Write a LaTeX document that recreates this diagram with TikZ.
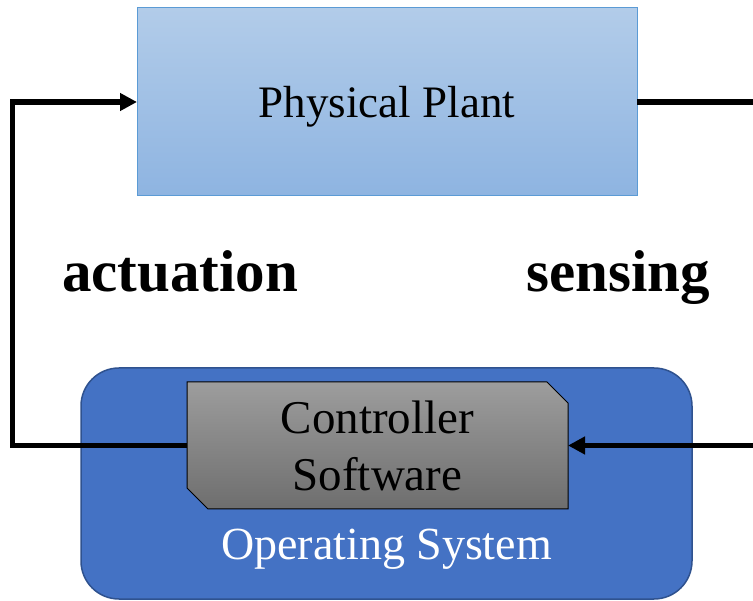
\documentclass[tikz,border=0pt]{standalone}
\usepackage{fontspec}
\setmainfont{Liberation Serif}
\usepackage{xcolor}
\usetikzlibrary{arrows.meta, backgrounds}

\definecolor{plantTop}{RGB}{178,204,233}
\definecolor{plantBot}{RGB}{142,180,225}
\definecolor{plantLine}{RGB}{91,155,213}
\definecolor{osFill}{RGB}{68,114,196}
\definecolor{osLine}{RGB}{47,82,143}
\definecolor{ctrlTop}{RGB}{157,157,157}
\definecolor{ctrlBot}{RGB}{110,110,110}

\begin{document}
\begin{tikzpicture}[x=1pt, y=-1pt,
    plantbox/.style={draw=plantLine, line width=1pt, top color=plantTop, bottom color=plantBot, minimum width=500pt, minimum height=188pt, inner sep=0pt, outer sep=0pt, text depth=0pt, font=\fontsize{45}{54}\selectfont},
    osbox/.style={draw=osLine, line width=1.5pt, fill=osFill, rounded corners=38pt, minimum width=611pt, minimum height=231pt, inner sep=0pt, outer sep=0pt},
    ctrlbox/.style={minimum width=381pt, minimum height=127pt, inner sep=0pt, outer sep=0pt, align=center, font=\fontsize{47}{57}\selectfont},
    ctrlshade/.style={draw=black, line width=1pt, top color=ctrlTop, bottom color=ctrlBot},
    lbl/.style={anchor=base, font=\fontsize{59}{70}\selectfont\bfseries},
    link/.style={line width=5.5pt, line join=miter, -{Triangle[length=17pt, width=17pt]}}
]
    \useasboundingbox (0,0) rectangle (753,601);
    \clip (0,0) rectangle (753,601);

    % plant
    \node[plantbox] at (387,102) (plant) {Physical Plant};

    % controller inside the OS
    \node[ctrlbox] at (377.5,445.5) (ctrl) {Controller\\Software};
    \begin{scope}[on background layer]
        \node[osbox] at (386.5,483.5) (os) {};
        \shade[ctrlshade] (ctrl.north west) -- ([xshift=-21pt]ctrl.north east) -- ([yshift=-21pt]ctrl.north east)
            -- (ctrl.south east) -- ([xshift=21pt]ctrl.south west) -- ([yshift=21pt]ctrl.south west) -- cycle;
    \end{scope}
    \node[anchor=base, text=white, font=\fontsize{46}{55}\selectfont] at (386.5,560) (oslabel) {Operating System};

    % loop labels
    \node[lbl] at (180,292) (act) {actuation};
    \node[lbl] at (618,292) (sen) {sensing};

    % feedback loop
    \coordinate (lcorner) at (12.5,0);
    \coordinate (rcorner) at (762,0);
    \draw[link] (ctrl.west) -- (ctrl.west -| lcorner) |- (plant.west);
    \draw[link] (plant.east) -- (plant.east -| rcorner) |- (ctrl.east);
\end{tikzpicture}
\end{document}
